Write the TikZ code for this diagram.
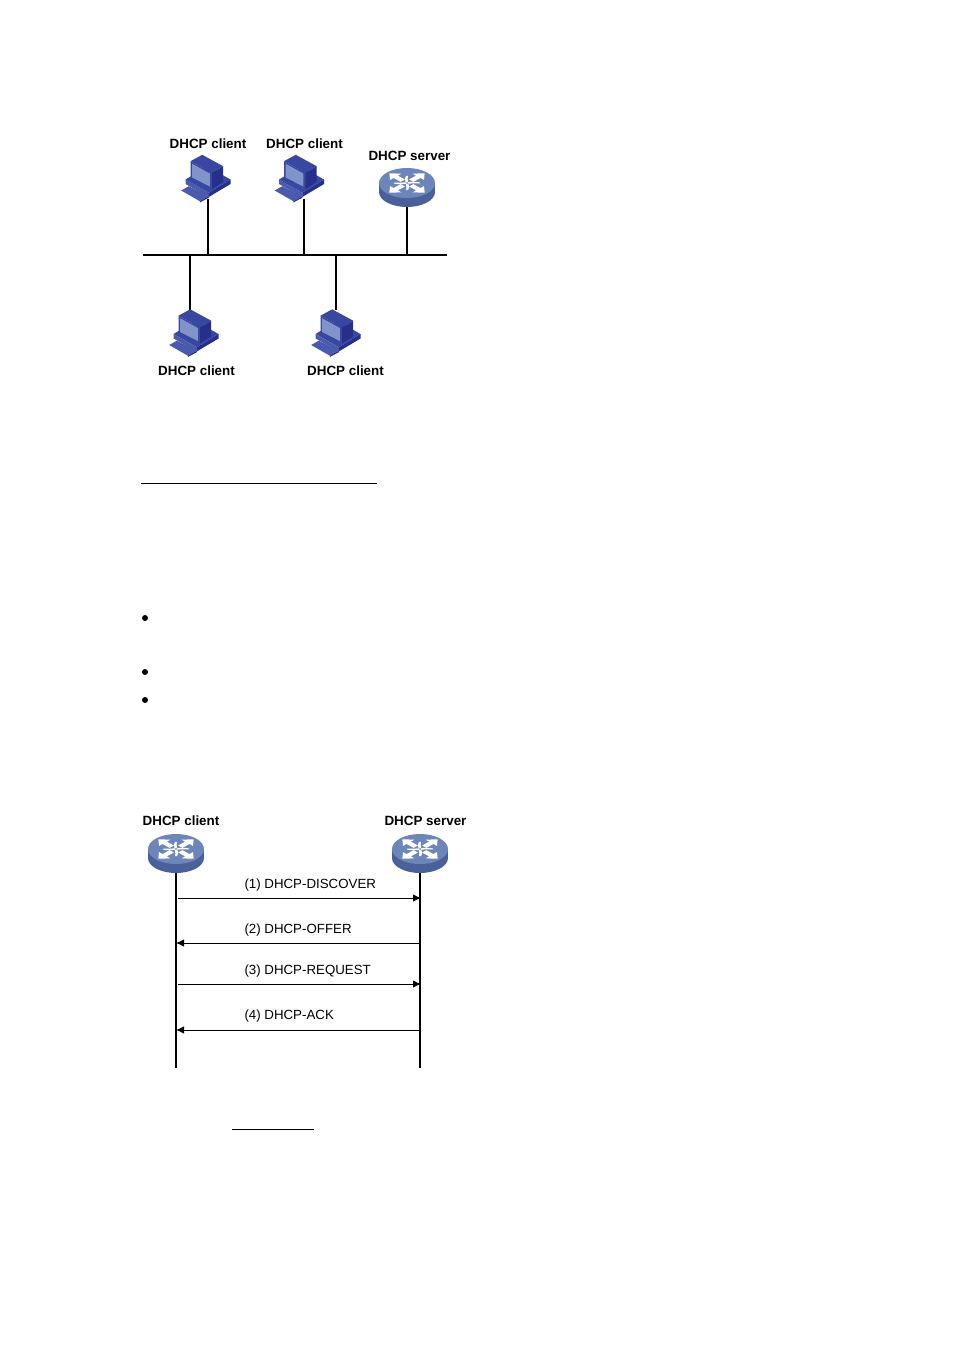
\documentclass[tikz,border=0pt]{standalone}
\usepackage{fontspec}
\setmainfont{Liberation Sans}
\usetikzlibrary{arrows.meta}
\definecolor{pcdark}{HTML}{26308A}
\definecolor{pcmid}{HTML}{3847A0}
\definecolor{pclight}{HTML}{4A5BAF}
\definecolor{pcscreen}{HTML}{8193CB}
\definecolor{rttop}{HTML}{6C86BA}
\definecolor{rtside}{HTML}{4A6099}
\tikzset{
  x=1pt,y=-1pt,
  bold label/.style={font=\fontsize{13.4}{15}\selectfont\bfseries,inner sep=0pt,text=black},
  msg label/.style={font=\fontsize{13.3}{15}\selectfont,inner sep=0pt,anchor=west,text=black},
  wire/.style={line width=2.2pt,draw=black},
  heavy wire/.style={line width=2.8pt,draw=black},
  msg/.style={line width=1pt,draw=black,-{Latex[length=8pt,width=7.5pt]}},
  rule line/.style={line width=.9pt,draw=black},
  iconbox/.style={inner sep=0pt,minimum width=49pt,minimum height=43pt},
  rtbox/.style={inner sep=0pt,minimum width=56pt,minimum height=39pt},
  computer/.pic={
    \fill[pclight] (-24.3,13) -- (-16.7,8.7) -- (3.3,18.7) -- (-5.7,23.7) -- cycle;
    \fill[pcdark] (-5.7,23.7) -- (3.3,18.7) -- (3.3,20.2) -- (-5.7,25) -- cycle;
    \fill[pcmid] (-20,2) -- (2,-11) -- (25,2) -- (3.3,15.3) -- cycle;
    \fill[pclight] (-20,2) -- (3.3,15.3) -- (3.3,19.5) -- (-20,6.5) -- cycle;
    \fill[pcdark] (3.3,15.3) -- (25,2) -- (25,6.5) -- (3.3,19.5) -- cycle;
    \fill[pcmid] (-15,-16.3) -- (-3.3,-22.7) -- (17.7,-11.3) -- (6.7,-4.7) -- cycle;
    \fill[pcmid] (-15,-16.3) -- (6.7,-4.7) -- (6.7,11.3) -- (-15,1.5) -- cycle;
    \fill[pcscreen] (-13.3,-13.7) -- (4.3,-4) -- (4.3,9) -- (-13.3,0) -- cycle;
    \fill[pcdark] (6.7,-4.7) -- (17.7,-11.3) -- (17.7,4.5) -- (6.7,11.3) -- cycle;
  },
  router/.pic={
    \fill[rtside] (-28,-4.5) rectangle (28,4.5);
    \fill[rtside] (0,4.5) ellipse[x radius=28,y radius=15];
    \fill[rttop] (0,-4.5) ellipse[x radius=28,y radius=15];
    \begin{scope}[yshift=4.5pt,yscale=.55]
      \foreach \a in {45,135,225,315}{
        \begin{scope}[rotate=\a]
          \fill[white] (6,-3) -- (16,-3) -- (16,-8) -- (25,0) -- (16,8) -- (16,3) -- (6,3) -- cycle;
        \end{scope}
        \begin{scope}[rotate=\a+45]
          \fill[white] (1,-1.3) .. controls (5,-2.6) and (9,-2.6) .. (13,-1) -- (13,.8) .. controls (9,.6) and (5,.6) .. (1,1.3) -- cycle;
        \end{scope}
      }
    \end{scope}
  }
}
\begin{document}
\begin{tikzpicture}
\useasboundingbox (0,0) rectangle (954,1350);
\fill[white] (0,0) rectangle (954,1350);

% --- top diagram ---
\node[bold label] (l1) at (208,144) {DHCP client};
\node[bold label] (l2) at (304.5,144) {DHCP client};
\node[bold label] (l3) at (409.5,156) {DHCP server};
\node[bold label] (l4) at (196.5,371) {DHCP client};
\node[bold label] (l5) at (345.5,371) {DHCP client};

\node[iconbox] (c1) at (205.5,177.5) {};
\node[iconbox] (c2) at (299,177.5) {};
\node[iconbox] (c3) at (193.5,332) {};
\node[iconbox] (c4) at (335.5,332) {};
\node[rtbox] (r1) at (407,187.5) {};

\coordinate (busl) at (143,255);
\coordinate (busr) at (447,255);
\coordinate (t1) at (208,255);
\coordinate (t2) at (304,255);
\coordinate (t3) at (407,255);
\coordinate (t4) at (190,255);
\coordinate (t5) at (336,255);

\draw[wire] (c1.south -| t1) -- (t1);
\draw[wire] (c2.south -| t2) -- (t2);
\draw[heavy wire] (r1.south -| t3) -- (t3);
\draw[wire] (t4) -- (c3.north -| t4);
\draw[wire] (t5) -- (c4.north -| t5);
\draw[wire] (busl) -- (busr);

\pic at (c1.center) {computer};
\pic at (c2.center) {computer};
\pic at (c3.center) {computer};
\pic at (c4.center) {computer};
\pic at (r1.center) {router};

% --- page remnants ---
\coordinate (ra) at (141,483);
\coordinate (rb) at (377,483);
\draw[rule line] (ra) -- (rb);
\coordinate (rc) at (232,1129);
\coordinate (rd) at (314,1129);
\draw[rule line] (rc) -- (rd);
\fill[black] (145,618) circle[radius=3];
\fill[black] (145,672) circle[radius=3];
\fill[black] (145,700) circle[radius=3];

% --- sequence diagram ---
\node[bold label] (sl) at (181,821) {DHCP client};
\node[bold label] (sr) at (425.5,821) {DHCP server};
\node[rtbox] (ra1) at (176,853.5) {};
\node[rtbox] (ra2) at (420,853.5) {};
\coordinate (ea) at (176,1068);
\coordinate (eb) at (420,1068);
\draw[wire] (ra1.south) -- (ea);
\draw[wire] (ra2.south) -- (eb);
\pic at (ra1.center) {router};
\pic at (ra2.center) {router};

\coordinate (a1) at (178,898);  \coordinate (b1) at (421,898);
\coordinate (a2) at (420,943);  \coordinate (b2) at (176,943);
\coordinate (a3) at (178,984);  \coordinate (b3) at (421,984);
\coordinate (a4) at (420,1030); \coordinate (b4) at (176,1030);
\draw[msg] (a1) -- (b1);
\draw[msg] (a2) -- (b2);
\draw[msg] (a3) -- (b3);
\draw[msg] (a4) -- (b4);
\node[msg label] (m1) at (244.3,885) {(1) DHCP-DISCOVER};
\node[msg label] (m2) at (244.3,930) {(2) DHCP-OFFER};
\node[msg label] (m3) at (244.3,971) {(3) DHCP-REQUEST};
\node[msg label] (m4) at (244.3,1016) {(4) DHCP-ACK};
\end{tikzpicture}
\end{document}
